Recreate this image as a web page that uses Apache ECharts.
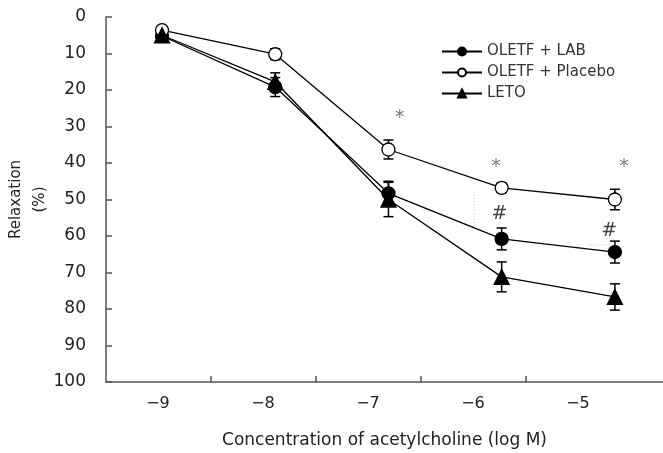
<!DOCTYPE html>
<html>
<head>
<meta charset="utf-8">
<script src="https://cdn.jsdelivr.net/npm/echarts@6/dist/echarts.min.js"></script>
<style>
  html, body { margin: 0; padding: 0; background: #fff; }
  #chart { width: 663px; height: 453px; }
</style>
</head>
<body>
<div id="chart"></div>
<script>
// concentrations (log M)
var concs = [-9, -8, -7, -6, -5];
var tickPos = [-8.5, -7.5, -6.5, -5.5];

// relaxation (%) and error (SE)
var labMean = [5.2, 19.2, 48.3, 60.8, 64.4];
var labErr = [1.0, 2.6, 3.3, 3.0, 3.0];
var placeboMean = [3.6, 10.2, 36.3, 46.8, 50.0];
var placeboErr = [0.6, 1.5, 2.6, 1.3, 2.8];
var letoMean = [5.0, 17.8, 50.0, 71.2, 76.7];
var letoErr = [1.0, 2.5, 4.7, 4.1, 3.6];

// significance marks
var markX = [-6.9, -6.05, -4.92, -6.02, -5.05];
var markY = [27.6, 41, 41, 54, 58.6];
var markText = ['*', '*', '*', '#', '#'];

// faint dotted guides left in the original figure
var guideV = [[-6.245, 47.9], [-6.245, 58.3]];
var guideH = [[-5.24, 62.4], [-4.96, 62.4]];

function pairs(xs, ys) {
    return xs.map(function (x, i) { return [x, ys[i]]; });
}
function errData(xs, m, e) {
    return xs.map(function (x, i) { return [x, m[i] - e[i], m[i] + e[i]]; });
}

function errorBar(params, api) {
    var x = api.value(0);
    var lo = api.coord([x, api.value(1)]);
    var hi = api.coord([x, api.value(2)]);
    var w = 5;
    var st = { stroke: '#000', lineWidth: 1.5 };
    return {
        type: 'group',
        children: [
            { type: 'line', shape: { x1: lo[0], y1: lo[1], x2: hi[0], y2: hi[1] }, style: st },
            { type: 'line', shape: { x1: lo[0] - w, y1: lo[1], x2: lo[0] + w, y2: lo[1] }, style: st },
            { type: 'line', shape: { x1: hi[0] - w, y1: hi[1], x2: hi[0] + w, y2: hi[1] }, style: st }
        ]
    };
}

function lineSeries(name, data, symbol, fill) {
    return {
        name: name,
        type: 'line',
        xAxisIndex: 0,
        data: data,
        symbol: symbol,
        symbolSize: symbol == 'triangle' ? 15 : 13,
        showAllSymbol: true,
        z: 3,
        lineStyle: { color: '#000', width: 1.3 },
        itemStyle: { color: fill, borderColor: '#000', borderWidth: 1.3 }
    };
}

function errSeries(data) {
    return {
        type: 'custom',
        xAxisIndex: 0,
        renderItem: errorBar,
        data: data,
        z: 2,
        silent: true
    };
}

function guideSeries(data) {
    return {
        type: 'line',
        xAxisIndex: 0,
        data: data,
        symbol: 'none',
        silent: true,
        z: 1,
        lineStyle: { color: '#c8c8c8', width: 1, type: [1, 2] }
    };
}

var font = 'DejaVu Sans, sans-serif';

var option = {
    animation: false,
    backgroundColor: '#fff',
    grid: { left: 106, right: 0, top: 17, bottom: 71, containLabel: false, outerBoundsMode: 'none' },
    legend: {
        orient: 'vertical',
        left: 436,
        top: 39,
        itemWidth: 40,
        itemHeight: 10,
        itemGap: 6,
        data: ['OLETF + LAB', 'OLETF + Placebo', 'LETO'],
        textStyle: { fontFamily: font, fontSize: 15, color: '#333' }
    },
    xAxis: [{
        type: 'value',
        show: false,
        position: 'top',
        min: -9.495,
        max: -4.575
    }, {
        type: 'value',
        position: 'bottom',
        min: -9.495,
        max: -4.19,
        name: 'Concentration of acetylcholine (log M)',
        nameLocation: 'middle',
        nameGap: 50,
        nameTextStyle: { fontFamily: font, fontSize: 17, color: '#222' },
        axisLine: { lineStyle: { color: '#555', width: 1.5 } },
        axisTick: { inside: true, length: 6, customValues: tickPos, lineStyle: { color: '#555', width: 1.5 } },
        axisLabel: {
            customValues: concs,
            margin: 14,
            fontFamily: font,
            fontSize: 16,
            color: '#222',
            formatter: function (v) { return '\u2212' + Math.abs(v); }
        },
        splitLine: { show: false }
    }],
    yAxis: {
        type: 'value',
        inverse: true,
        min: 0,
        max: 100,
        interval: 10,
        name: 'Relaxation\n(%)',
        nameLocation: 'middle',
        nameRotate: 90,
        nameGap: 54,
        nameMoveOverlap: false,
        nameTextStyle: { fontFamily: font, fontSize: 15, color: '#222', lineHeight: 24 },
        axisLine: { show: true, lineStyle: { color: '#555', width: 1.5 } },
        axisTick: { show: true, inside: true, length: 6, lineStyle: { color: '#555', width: 1.5 } },
        axisLabel: { fontFamily: font, fontSize: 17, color: '#222', margin: 20 },
        splitLine: { show: false }
    },
    series: [
        guideSeries(guideV),
        guideSeries(guideH),
        errSeries(errData(concs, labMean, labErr)),
        errSeries(errData(concs, placeboMean, placeboErr)),
        errSeries(errData(concs, letoMean, letoErr)),
        lineSeries('OLETF + LAB', pairs(concs, labMean), 'circle', '#000'),
        lineSeries('OLETF + Placebo', pairs(concs, placeboMean), 'circle', '#fff'),
        lineSeries('LETO', pairs(concs, letoMean), 'triangle', '#000'),
        {
            type: 'scatter',
            xAxisIndex: 0,
            symbolSize: 0,
            silent: true,
            data: markX.map(function (x, i) {
                return {
                    value: [x, markY[i]],
                    label: { formatter: markText[i], color: markText[i] == '#' ? '#111' : '#555' }
                };
            }),
            label: {
                show: true,
                position: 'inside',
                fontFamily: font,
                fontSize: 19
            }
        }
    ]
};

var chart = echarts.init(document.getElementById('chart'));
chart.setOption(option);
</script>
</body>
</html>
